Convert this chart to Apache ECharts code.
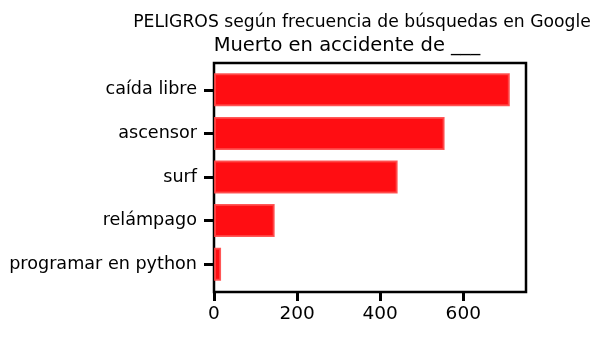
<!DOCTYPE html>
<html>
<head>
<meta charset="utf-8">
<script src="https://cdn.jsdelivr.net/npm/echarts@6/dist/echarts.min.js"></script>
<style>
html,body{margin:0;padding:0;background:#fff;}
#chart{width:612px;height:339px;}
</style>
</head>
<body>
<div id="chart"></div>
<script>
const categories = ["caída libre", "ascensor", "surf", "relámpago", "programar en python"];
const values = [712, 555, 442, 146, 17];
const xTicks = [0, 200, 400, 600];
const supTitle = "PELIGROS según frecuencia de búsquedas en Google";
const axTitle = "Muerto en accidente de ___";

const FONT = "DejaVu Sans";
const chart = echarts.init(document.getElementById('chart'), null, {renderer: 'canvas'});
const xMax = 751;
chart.setOption({
  backgroundColor: '#ffffff',
  animation: false,
  title: [
    {text: supTitle, left: 357, top: 9, textAlign: 'center',
     textStyle: {fontFamily: FONT, fontSize: 17.2, fontWeight: 'normal', color: '#000'}},
    {text: axTitle, left: 342, top: 31, textAlign: 'center',
     textStyle: {fontFamily: FONT, fontSize: 19.5, fontWeight: 'normal', color: '#000'}}
  ],
  grid: [
    {left: 214, right: 86, top: 68, bottom: 53, show: false},
    {left: 214, right: 86, top: 63, bottom: 47, show: true, borderColor: '#000', borderWidth: 2.5, backgroundColor: 'transparent'}
  ],
  xAxis: [
    {gridIndex: 0, type: 'value', min: 0, max: xMax, show: false},
    {gridIndex: 1, type: 'value', min: 0, max: xMax, interval: 200,
     axisLine: {show: false},
     splitLine: {show: false},
     axisTick: {show: true, length: 9, lineStyle: {color: '#000', width: 3}},
     axisLabel: {margin: 13, fontFamily: FONT, fontSize: 18.5, color: '#000', showMaxLabel: false,
       formatter: v => xTicks.includes(v) ? String(v) : ''}}
  ],
  yAxis: [
    {gridIndex: 0, type: 'category', data: categories, inverse: true,
     axisLine: {show: false},
     axisTick: {show: true, alignWithLabel: true, length: 10, lineStyle: {color: '#000', width: 3}},
     axisLabel: {margin: 17, fontFamily: FONT, fontSize: 17.6, color: '#000'}},
    {gridIndex: 1, type: 'value', show: false}
  ],
  series: [{
    type: 'bar',
    xAxisIndex: 0, yAxisIndex: 0,
    data: values,
    barWidth: 33,
    itemStyle: {color: '#ff0d12', borderColor: 'rgba(255,70,70,0.9)', borderWidth: 2}
  }]
});
</script>
</body>
</html>
